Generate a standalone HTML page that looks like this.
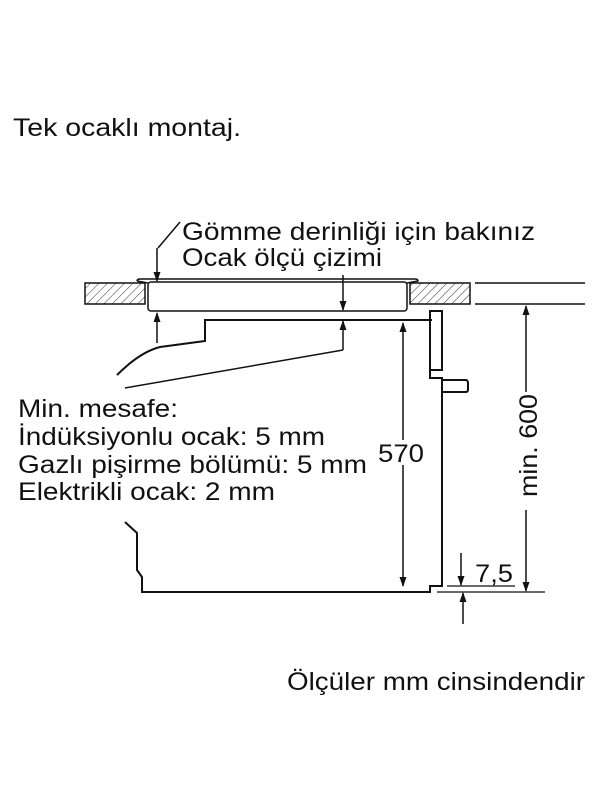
<!DOCTYPE html>
<html><head><meta charset="utf-8"><style>
html,body{margin:0;padding:0;background:#fff;}
svg{display:block;}
text{font-family:"Liberation Sans",sans-serif;font-size:25px;fill:#111;}
</style></head><body>
<svg width="600" height="800" viewBox="0 0 600 800" xmlns="http://www.w3.org/2000/svg">
<defs>
<pattern id="h" width="6" height="6" patternUnits="userSpaceOnUse" patternTransform="rotate(45)">
<line x1="0" y1="0" x2="0" y2="6" stroke="#333" stroke-width="1"/>
</pattern>
<marker id="a" markerWidth="10" markerHeight="10" refX="9" refY="5" orient="auto" markerUnits="userSpaceOnUse">
<path d="M0,1.5 L10,5 L0,8.5 Z" fill="#111"/>
</marker>
</defs>
<text x="13" y="136" textLength="228" lengthAdjust="spacingAndGlyphs">Tek ocaklı montaj.</text>
<text x="182" y="240" textLength="353" lengthAdjust="spacingAndGlyphs">Gömme derinliği için bakınız</text>
<text x="182" y="266" textLength="200" lengthAdjust="spacingAndGlyphs">Ocak ölçü çizimi</text>
<text x="18" y="417" textLength="160" lengthAdjust="spacingAndGlyphs">Min. mesafe:</text>
<text x="18" y="445" textLength="307" lengthAdjust="spacingAndGlyphs">İndüksiyonlu ocak: 5 mm</text>
<text x="18" y="473" textLength="349" lengthAdjust="spacingAndGlyphs">Gazlı pişirme bölümü: 5 mm</text>
<text x="18" y="500" textLength="257" lengthAdjust="spacingAndGlyphs">Elektrikli ocak: 2 mm</text>
<text x="378" y="462" textLength="46" lengthAdjust="spacingAndGlyphs">570</text>
<text x="475" y="582" textLength="38" lengthAdjust="spacingAndGlyphs">7,5</text>
<text transform="translate(537,497) rotate(-90)" textLength="103" lengthAdjust="spacingAndGlyphs">min. 600</text>
<text x="287" y="690" textLength="298" lengthAdjust="spacingAndGlyphs">Ölçüler mm cinsindendir</text>
<g stroke="#111" fill="none" stroke-width="1.5">
<rect x="85" y="283" width="60" height="21" fill="url(#h)"/>
<rect x="410" y="283" width="60" height="21" fill="url(#h)"/>
<line x1="475" y1="283" x2="585" y2="283"/>
<line x1="475" y1="304" x2="585" y2="304"/>
<path d="M137,281 Q137,279 140,279 L415,279 Q418,279 418,281 L407,283"/>
<path d="M137,281 L148,283"/>
<rect x="148" y="282" width="259" height="29" rx="3" fill="#fff"/>
<line x1="180" y1="222" x2="158" y2="248"/>
<line x1="157" y1="248" x2="157" y2="281" marker-end="url(#a)"/>
<line x1="343" y1="275" x2="343" y2="310" marker-end="url(#a)"/>
<line x1="157" y1="343" x2="157" y2="313" marker-end="url(#a)"/>
<line x1="343" y1="350" x2="343" y2="321" marker-end="url(#a)"/>
<line x1="343" y1="350" x2="125" y2="388"/>
<path d="M432,320 L205,320 L205,341 L160,347 Q140,352 117,375" stroke-width="2"/>
<path d="M125,522 L137,533 L137,570 L142,577 L142,592 L430,592 L430,586 L442,586 L442,378 L430,378 L430,311 L442,311 L442,370 L430,370" stroke-width="2"/>
<path d="M430,370 L430,378" stroke-width="2"/>
<path d="M442,380 L466,380 Q468,380 468,384 L468,389 Q468,392 466,392 L442,392" stroke-width="2"/>
<line x1="403" y1="440" x2="403" y2="323" marker-end="url(#a)"/>
<line x1="403" y1="465" x2="403" y2="586" marker-end="url(#a)"/>
<line x1="526" y1="392" x2="526" y2="306" marker-end="url(#a)"/>
<line x1="526" y1="510" x2="526" y2="591" marker-end="url(#a)"/>
<line x1="437" y1="592" x2="545" y2="592" stroke-width="1.2"/>
<line x1="447" y1="586" x2="515" y2="586" stroke-width="1.2"/>
<line x1="461" y1="553" x2="461" y2="585" marker-end="url(#a)"/>
<line x1="463" y1="624" x2="463" y2="593" marker-end="url(#a)"/>
</g>
</svg>
</body></html>
